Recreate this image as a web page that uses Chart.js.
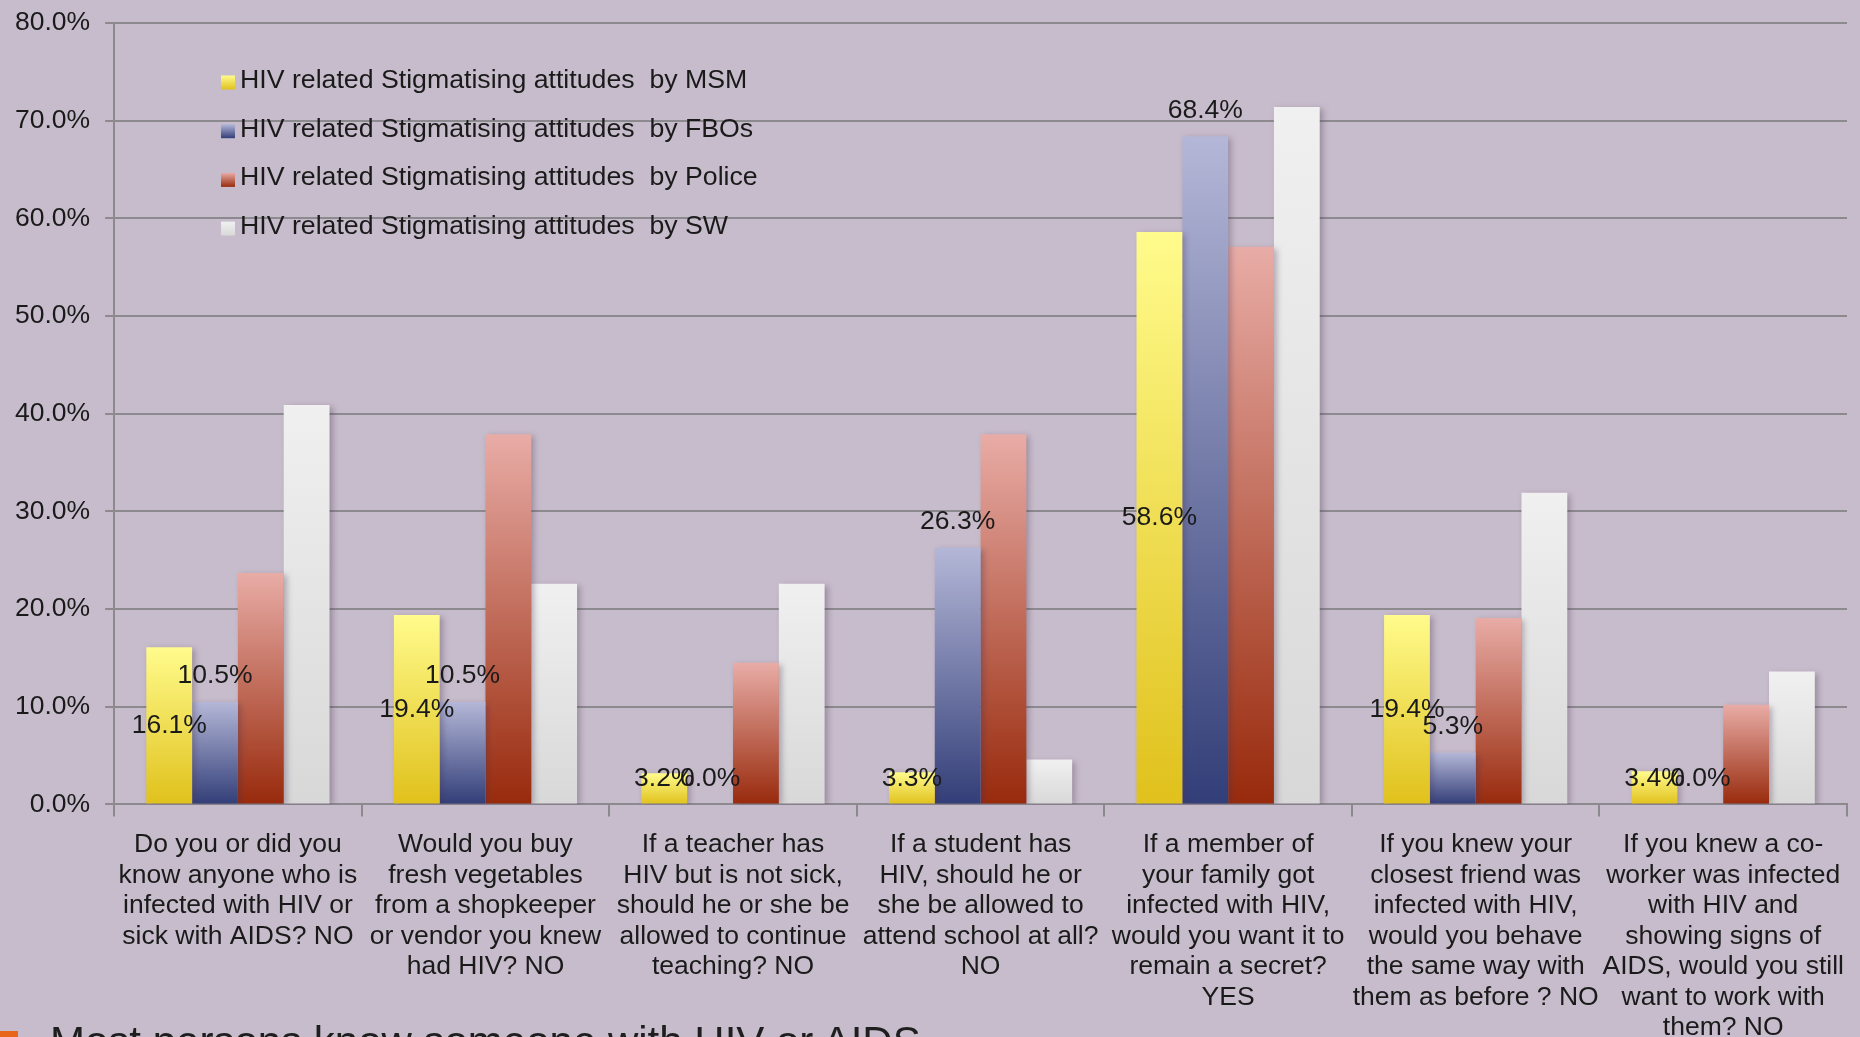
<!DOCTYPE html>
<html>
<head>
<meta charset="utf-8">
<script src="https://cdn.jsdelivr.net/npm/chart.js@4.4.1/dist/chart.umd.min.js"></script>
<style>
  html, body { margin: 0; padding: 0; background: #c7bccb; overflow: hidden; width: 1860px; height: 1037px; }
  #wrap { position: absolute; left: 0; top: -8px; width: 1860px; height: 1083px; }
  #note { position: absolute; left: 50px; top: 1018px; font: 42px "Liberation Sans", Arial, sans-serif; color: #1e1e1e; white-space: nowrap; }
  #bullet { position: absolute; left: 0; top: 1031px; width: 18px; height: 10px; background: #e8661c; }
</style>
</head>
<body>
<div id="wrap"><canvas id="chart"></canvas></div>
<div id="bullet"></div>
<div id="note">Most persons know someone with HIV or AIDS</div>
<script>
const categories = [
  ['Do you or did you', 'know anyone who is', 'infected with HIV or', 'sick with AIDS? NO'],
  ['Would you buy', 'fresh vegetables', 'from a shopkeeper', 'or vendor you knew', 'had HIV? NO'],
  ['If a teacher has', 'HIV but is not sick,', 'should he or she be', 'allowed to continue', 'teaching? NO'],
  ['If a student has', 'HIV, should he or', 'she be allowed to', 'attend school at all?', 'NO'],
  ['If a member of', 'your family got', 'infected with HIV,', 'would you want it to', 'remain a secret?', 'YES'],
  ['If you knew your', 'closest friend was', 'infected with HIV,', 'would you behave', 'the same way with', 'them as before ? NO'],
  ['If you knew a co-', 'worker was infected', 'with HIV and', 'showing signs of', 'AIDS, would you still', 'want to work with', 'them? NO']
];

const seriesNames = [
  'HIV related Stigmatising attitudes  by MSM',
  'HIV related Stigmatising attitudes  by FBOs',
  'HIV related Stigmatising attitudes  by Police',
  'HIV related Stigmatising attitudes  by SW'
];

// percent values
const msm    = [16.1, 19.4, 3.2, 3.3, 58.6, 19.4, 3.4];
const fbos   = [10.5, 10.5, 0.0, 26.3, 68.4, 5.3, 0.0];
const police = [23.7, 37.9, 14.5, 37.9, 57.1, 19.1, 10.2];
const sw     = [40.9, 22.6, 22.6, 4.6, 71.4, 31.9, 13.6];

const yMin = 0, yMax = 80, yStep = 10;

// top / bottom colours of each bar gradient
const gradients = [
  ['#fffb8c', '#e0c11c'],
  ['#b4b7d7', '#323e78'],
  ['#e8aca6', '#982a0c'],
  ['#f0f0f0', '#d8d8d8']
];

const FONT = '"Liberation Sans", Arial, sans-serif';
const SIZE = 26.5;
const TEXT = '#1a1a1a';
const GRID = '#8c898f';

function barGradient(stops) {
  return (c) => {
    const chart = c.chart;
    const y = chart.scales && chart.scales.y;
    if (!y || c.type !== 'data') return stops[1];
    const top = y.getPixelForValue(c.raw);
    const base = y.getPixelForValue(0);
    if (!isFinite(top) || !isFinite(base) || top === base) return stops[1];
    const g = chart.ctx.createLinearGradient(0, top, 0, base);
    g.addColorStop(0, stops[0]);
    g.addColorStop(1, stops[1]);
    return g;
  };
}

const overlay = {
  id: 'overlay',
  beforeDatasetsDraw(chart) {
    const ctx = chart.ctx;
    ctx.save();
    ctx.shadowColor = 'rgba(70,50,80,0.35)';
    ctx.shadowBlur = 6;
    ctx.shadowOffsetX = 3;
    ctx.shadowOffsetY = 2;
  },
  afterDatasetsDraw(chart) {
    const ctx = chart.ctx;
    ctx.restore();
    // value labels only on MSM (centre) and FBOs (above the bar)
    ctx.save();
    ctx.font = SIZE + 'px ' + FONT;
    ctx.fillStyle = TEXT;
    ctx.textAlign = 'center';
    ctx.textBaseline = 'middle';
    [0, 1].forEach(di => {
      const meta = chart.getDatasetMeta(di);
      meta.data.forEach((bar, i) => {
        const v = chart.data.datasets[di].data[i];
        const base = bar.base;
        const y = di === 0 ? Math.min((bar.y + base) / 2, base - 25) : bar.y - 26;
        ctx.fillText(v.toFixed(1) + '%', bar.x, y);
      });
    });
    ctx.restore();
  },
  afterDraw(chart) {
    // legend sits inside the plot, upper left
    const ctx = chart.ctx;
    ctx.save();
    ctx.font = '26.7px ' + FONT;
    ctx.textBaseline = 'middle';
    ctx.textAlign = 'left';
    chart.data.datasets.forEach((ds, i) => {
      const cy = 88.5 + i * 48.7;
      const g = ctx.createLinearGradient(0, cy - 5, 0, cy + 9);
      g.addColorStop(0, gradients[i][0]);
      g.addColorStop(1, gradients[i][1]);
      ctx.fillStyle = g;
      ctx.fillRect(221, cy - 5, 14, 14);
      ctx.fillStyle = TEXT;
      ctx.fillText(ds.label, 240, cy);
    });
    ctx.restore();
  }
};

const seriesData = [msm, fbos, police, sw];

new Chart(document.getElementById('chart'), {
  type: 'bar',
  data: {
    labels: categories,
    datasets: seriesData.map((d, i) => ({
      label: seriesNames[i],
      data: d,
      backgroundColor: barGradient(gradients[i]),
      borderWidth: 0,
      categoryPercentage: 0.74,
      barPercentage: 1.0
    }))
  },
  options: {
    responsive: true,
    maintainAspectRatio: false,
    animation: false,
    layout: { padding: { left: 0, top: 0, right: 13, bottom: 19 } },
    plugins: {
      legend: { display: false },
      tooltip: { enabled: false }
    },
    scales: {
      x: {
        grid: { display: true, drawOnChartArea: false, drawTicks: true, tickLength: 12, color: GRID, lineWidth: 2 },
        border: { display: true, color: GRID, width: 2 },
        ticks: {
          autoSkip: false, maxRotation: 0, minRotation: 0, padding: 13,
          color: TEXT, font: { family: FONT, size: SIZE, lineHeight: 1.151 }
        }
      },
      y: {
        min: yMin, max: yMax,
        grid: { color: GRID, lineWidth: 2, tickLength: 9 },
        border: { display: true, color: GRID, width: 2 },
        ticks: {
          stepSize: yStep, padding: 15, color: TEXT,
          font: { family: FONT, size: SIZE },
          callback: v => v.toFixed(1) + '%'
        }
      }
    }
  },
  plugins: [overlay]
});
</script>
</body>
</html>
